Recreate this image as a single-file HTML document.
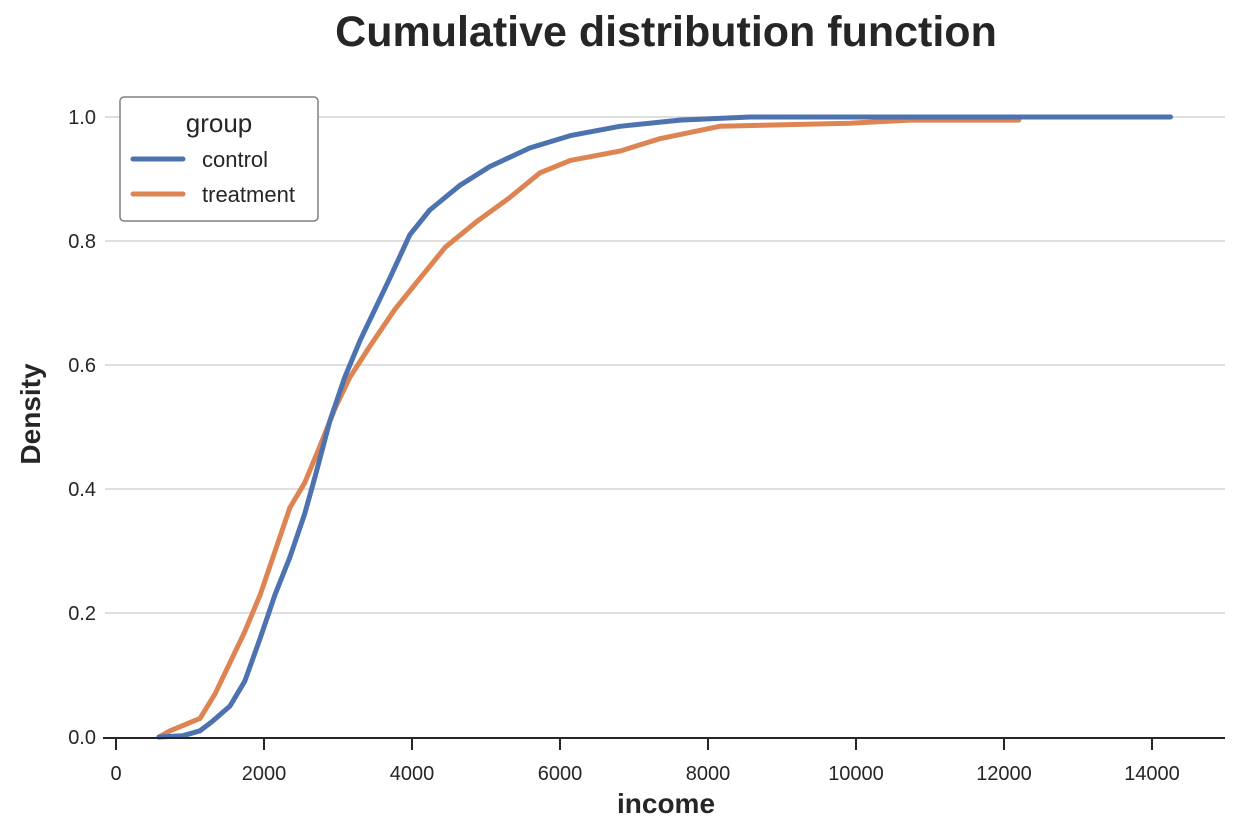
<!DOCTYPE html>
<html><head><meta charset="utf-8"><style>
html,body{margin:0;padding:0;background:#fff;}
svg{display:block;font-family:"Liberation Sans",Arial,sans-serif;}
</style></head><body>
<svg id="chart" width="1238" height="835" viewBox="0 0 1238 835" xmlns="http://www.w3.org/2000/svg">
<text x="666" y="46" text-anchor="middle" font-size="43" font-weight="bold" fill="#262626">Cumulative distribution function</text>
<g id="grid"></g>
<g id="series"></g>
<g id="axes"></g>
<text x="666" y="813" text-anchor="middle" font-size="28" font-weight="bold" fill="#262626">income</text>
<text transform="translate(40,414) rotate(-90)" text-anchor="middle" font-size="28" font-weight="bold" fill="#262626">Density</text>
<g>
<rect x="120" y="97" width="198" height="124" rx="4" fill="#fff" stroke="#808080" stroke-width="1.5"/>
<text x="219" y="132" text-anchor="middle" font-size="26" fill="#262626">group</text>
<line x1="133" y1="159" x2="183" y2="159" stroke="#4c72b0" stroke-width="5" stroke-linecap="round"/>
<text x="202" y="167" font-size="22" fill="#262626">control</text>
<line x1="133" y1="194" x2="183" y2="194" stroke="#dd8452" stroke-width="5" stroke-linecap="round"/>
<text x="202" y="202" font-size="22" fill="#262626">treatment</text>
</g>
</svg>
<script>
const xTicks = [0,2000,4000,6000,8000,10000,12000,14000];
const yTicks = [0.0,0.2,0.4,0.6,0.8,1.0];
const controlIncome = [580,900,1135,1300,1540,1740,1950,2150,2350,2550,2690,2890,3090,3300,3500,3700,3970,4240,4650,5050,5590,6140,6810,7620,8570,14250];
const controlCdf    = [0,0.002,0.01,0.025,0.05,0.09,0.16,0.23,0.29,0.36,0.42,0.51,0.58,0.64,0.69,0.74,0.81,0.85,0.89,0.92,0.95,0.97,0.985,0.995,1.0,1.0];
const treatmentIncome = [580,730,1135,1340,1540,1740,1950,2150,2350,2550,2760,2960,3160,3430,3770,4110,4450,4860,5320,5730,6140,6810,7350,8160,9920,10730,12200];
const treatmentCdf    = [0,0.01,0.03,0.07,0.12,0.17,0.23,0.30,0.37,0.41,0.47,0.53,0.58,0.63,0.69,0.74,0.79,0.83,0.87,0.91,0.93,0.945,0.965,0.985,0.99,0.995,0.995];

const NS="http://www.w3.org/2000/svg";
const xs = v => 116 + v*(148/2000);
const ys = v => 737 - v*620;
const grid=document.getElementById('grid'), axes=document.getElementById('axes'), series=document.getElementById('series');
function mk(tag,attrs,parent){const e=document.createElementNS(NS,tag);for(const k in attrs)e.setAttribute(k,attrs[k]);parent.appendChild(e);return e;}
yTicks.forEach(t=>{
  if(t>0){const g=mk('line',{x1:105,x2:1225,y1:ys(t),y2:ys(t),stroke:'#cccccc','stroke-width':1.3},grid);
  
  }
  const l=mk('text',{x:96,y:ys(t)+7,'text-anchor':'end','font-size':20,fill:'#262626'},axes);
  l.textContent=t.toFixed(1);
  
  
});
const ax=mk('line',{x1:103,x2:1225,y1:738,y2:738,stroke:'#262626','stroke-width':2},axes);


xTicks.forEach(t=>{
  mk('line',{x1:xs(t),x2:xs(t),y1:738,y2:750,stroke:'#262626','stroke-width':2},axes);
  const l=mk('text',{x:xs(t),y:780,'text-anchor':'middle','font-size':20,fill:'#262626'},axes);
  l.textContent=t;
  
  
});
function draw(xa,ya,color,name){
  const pts=xa.map((x,i)=>xs(x).toFixed(1)+','+ys(ya[i]).toFixed(1)).join(' ');
  const p=mk('polyline',{points:pts,fill:'none',stroke:color,'stroke-width':5,'stroke-linejoin':'round','stroke-linecap':'round'},series);
  
  
}
draw(treatmentIncome,treatmentCdf,'#dd8452','treatment-cdf-line');
draw(controlIncome,controlCdf,'#4c72b0','control-cdf-line');
</script>
</body></html>
